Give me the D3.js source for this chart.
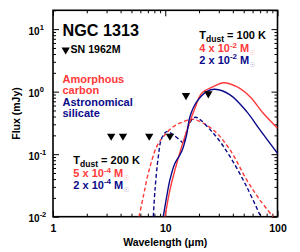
<!DOCTYPE html>
<meta charset="utf-8">
<script src="https://d3js.org/d3.v7.min.js"></script>
<html>
<style>
body { margin: 0; background: #fff; }
svg text { font-family: "Liberation Sans", Arial, sans-serif; font-weight: bold; }
</style>
<body>
<div id="chart"></div>
</body>
<script>
// data: [wavelength (um), flux (mJy)]
var carbon100 = [[9.95, 0.01], [11.0, 0.0267], [12.2, 0.0558], [14.0, 0.132], [16.0, 0.275], [18.4, 0.542],
    [21.1, 0.94], [26.8, 1.2], [32.9, 1.39], [43.3, 1.2], [56.9, 0.83], [74.7, 0.45], [100, 0.26]];
var silicate100 = [[9.6, 0.01], [10.3, 0.021], [11.0, 0.0387], [12.2, 0.0716], [13.5, 0.097], [14.4, 0.126],
    [15.5, 0.203], [16.6, 0.398], [19.1, 0.69], [23.4, 1.0], [27.7, 1.09], [37.8, 0.89], [53.2, 0.479],
    [69.8, 0.244], [100, 0.103]];
var carbon200 = [[5.84, 0.01], [6.37, 0.0209], [7.06, 0.0494], [8.39, 0.132], [9.6, 0.19], [11.8, 0.275],
    [14.5, 0.33], [17.8, 0.361], [26.8, 0.244], [37.8, 0.117], [53.2, 0.0387], [69.8, 0.0185], [91.2, 0.01]];
var silicate200 = [[7.83, 0.01], [8.1, 0.0267], [8.67, 0.091], [9.3, 0.18], [10.3, 0.229], [11.8, 0.203],
    [14.0, 0.158], [14.5, 0.149], [16.0, 0.275], [18.4, 0.39], [26.8, 0.216], [37.8, 0.091], [53.2, 0.030],
    [69.8, 0.0106]];

// SN 1962M upper limits
var limWave = [3.3, 4.2, 7.2, 11.0, 15.3, 24.2];
var limFlux = [0.195, 0.195, 0.195, 0.195, 0.87, 0.93];

var xMajor = [1, 10, 100];
var yMajor = [0.01, 0.1, 1, 10];
var yExp = ["-2", "-1", "0", "1"];

var red = "#ff3a3a", blue = "#0a0a8a";

var margin = { top: 10.3, right: 22.5, bottom: 35.3, left: 53 },
    width = 300 - margin.left - margin.right,
    height = 252 - margin.top - margin.bottom;

var svg = d3.select("#chart")
    .append("svg")
    .attr("width", 300)
    .attr("height", 252)
    .append("g")
    .attr("transform", "translate(" + margin.left + "," + margin.top + ")");

var x = d3.scaleLog().domain([1, 100]).range([0, width]);
var y = d3.scaleLog().domain([0.01, 20]).range([height, 0]);

// minor ticks
var xMinor = [], yMinor = [];
[1, 10].forEach(function (d) { for (var i = 2; i <= 9; i++) xMinor.push(d * i); });
[0.01, 0.1, 1, 10].forEach(function (d) { for (var i = 2; i <= 9; i++) if (d * i <= 20) yMinor.push(d * i); });

function axisSet(axis, vals, size) {
    return axis.tickValues(vals).tickSize(size).tickFormat("");
}

// bottom
var gx = svg.append("g").attr("transform", "translate(0," + height + ")");
gx.call(axisSet(d3.axisBottom(x), xMajor, -6));
gx.append("g").call(axisSet(d3.axisBottom(x), xMinor, -3));
gx.selectAll(".tick").filter(function (d) { return xMajor.indexOf(d) >= 0; }).append("text")
    .attr("y", 15).attr("text-anchor", "middle").attr("fill", "#000")
    .attr("font-size", 10.5).text(function (d) { return d; });
// top
var gt = svg.append("g");
gt.call(axisSet(d3.axisTop(x), xMajor, -6));
gt.append("g").call(axisSet(d3.axisTop(x), xMinor, -3));
// left
var gy = svg.append("g");
gy.call(axisSet(d3.axisLeft(y), yMajor, -6));
gy.append("g").call(axisSet(d3.axisLeft(y), yMinor, -3));
gy.selectAll(".tick").filter(function (d) { return yMajor.indexOf(d) >= 0; }).each(function (d) {
    var t = d3.select(this).append("text")
        .attr("x", -14).attr("y", 5).attr("text-anchor", "end").attr("fill", "#000")
        .attr("font-size", 10);
    t.append("tspan").text("10");
    t.append("tspan").attr("dy", -5).attr("font-size", 7.5).text(yExp[yMajor.indexOf(d)]);
});
gy.selectAll(".tick text").attr("text-anchor", "start").attr("x", -24.5);
// right
var gr = svg.append("g").attr("transform", "translate(" + width + ",0)");
gr.call(axisSet(d3.axisRight(y), yMajor, -6));
gr.append("g").call(axisSet(d3.axisRight(y), yMinor, -3));

svg.selectAll(".domain").attr("stroke", "none");
svg.selectAll(".tick line").attr("stroke", "#000").attr("stroke-width", 1);

svg.append("rect")
    .attr("width", width).attr("height", height)
    .attr("fill", "none").attr("stroke", "#000").attr("stroke-width", 1.6);

// curves
svg.append("clipPath").attr("id", "clip")
    .append("rect").attr("width", width).attr("height", height);

var line = d3.line()
    .x(function (d) { return x(d[0]); })
    .y(function (d) { return y(d[1]); })
    .curve(d3.curveCatmullRom);

var curves = [
    { data: carbon200, color: red, dash: "4,2.5" },
    { data: silicate200, color: blue, dash: "4,2.5" },
    { data: carbon100, color: red, dash: null },
    { data: silicate100, color: blue, dash: null }
];
svg.append("g").attr("clip-path", "url(#clip)")
    .selectAll("path").data(curves).enter().append("path")
    .attr("d", function (d) { return line(d.data); })
    .attr("fill", "none")
    .attr("stroke", function (d) { return d.color; })
    .attr("stroke-width", 1.4)
    .attr("stroke-dasharray", function (d) { return d.dash; });

// upper limits
var tri = d3.symbol().type(d3.symbolTriangle).size(30);
svg.selectAll(".lim").data(limWave).enter().append("path")
    .attr("class", "lim")
    .attr("d", tri)
    .attr("transform", function (d, i) { return "translate(" + x(d) + "," + y(limFlux[i]) + ") rotate(180)"; })
    .attr("fill", "#000");

// labels
svg.append("text").attr("x", 9.5).attr("y", 26).attr("font-size", 16.2).text("NGC 1313");
svg.append("path").attr("d", tri)
    .attr("transform", "translate(12.7,39.5) rotate(180)").attr("fill", "#000");
svg.append("text").attr("x", 17.5).attr("y", 43).attr("font-size", 10.6).text("SN 1962M");

svg.append("text").attr("x", 9.5).attr("y", 73).attr("font-size", 11).attr("fill", red).text("Amorphous");
svg.append("text").attr("x", 9.5).attr("y", 84).attr("font-size", 11).attr("fill", red).text("carbon");
svg.append("text").attr("x", 9.5).attr("y", 96).attr("font-size", 11).attr("fill", blue).text("Astronomical");
svg.append("text").attr("x", 9.5).attr("y", 107).attr("font-size", 11).attr("fill", blue).text("silicate");

function tempLabel(tx, ty, temp, m1, e1, m2, e2) {
    var t = svg.append("text").attr("x", tx).attr("y", ty).attr("font-size", 11);
    t.append("tspan").text("T");
    t.append("tspan").attr("dy", 3).attr("font-size", 8.5).text("dust");
    t.append("tspan").attr("dy", -3).text(" = " + temp + " K");
    [[m1, e1, red, 13.5], [m2, e2, blue, 25]].forEach(function (m) {
        var s = svg.append("text").attr("x", tx).attr("y", ty + m[3]).attr("font-size", 11).attr("fill", m[2]);
        s.append("tspan").text(m[0] + " x 10");
        s.append("tspan").attr("dy", -4.5).attr("font-size", 8).text(m[1]);
        s.append("tspan").attr("dy", 4.5).text(" M");
        s.append("tspan").attr("dy", 3).attr("font-size", 7).attr("font-weight", "normal")
            .attr("font-family", "DejaVu Sans").attr("opacity", 0.45).text("\u2609");
    });
}
tempLabel(146.3, 28.7, 100, "4", "-2", "2", "-2");
tempLabel(20.3, 153.7, 200, "5", "-4", "2", "-4");

// axis titles
svg.append("text").attr("x", width / 2).attr("y", height + 29.5)
    .attr("text-anchor", "middle").attr("font-size", 10.5).text("Wavelength (\u03bcm)");
svg.append("text").attr("transform", "translate(-33," + (height / 2) + ") rotate(-90)")
    .attr("text-anchor", "middle").attr("font-size", 10.5).text("Flux (mJy)");
</script>
</html>
